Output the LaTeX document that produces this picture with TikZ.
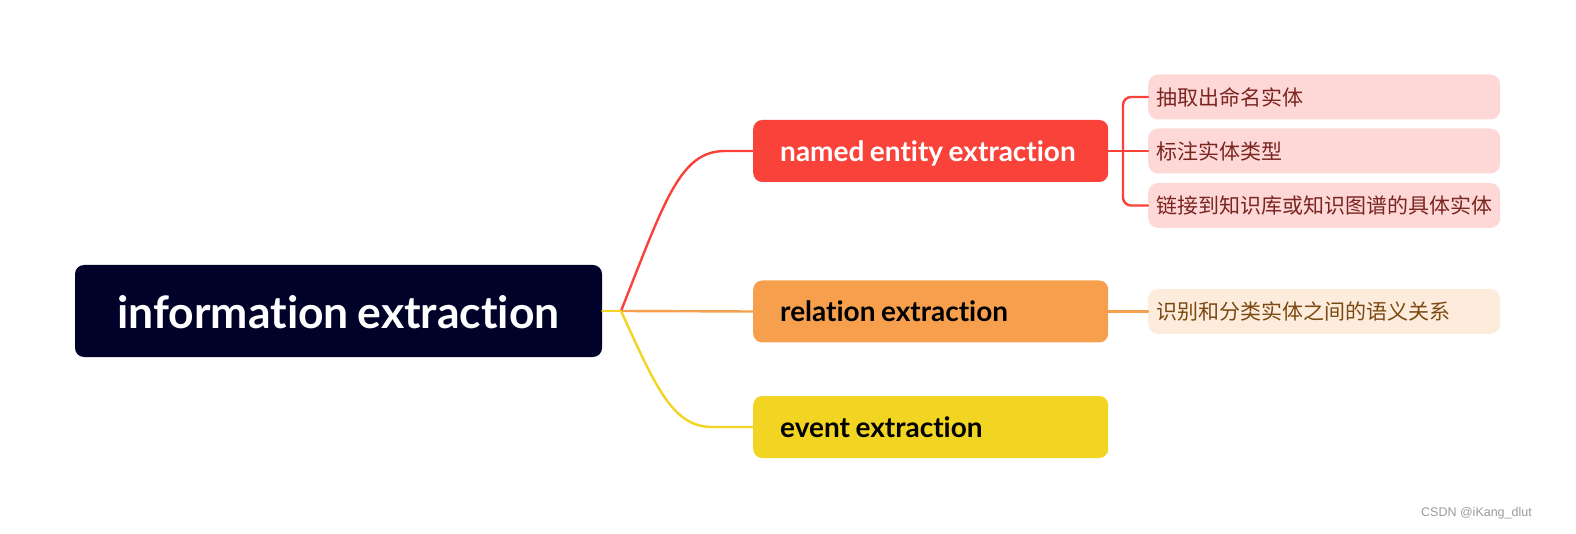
\documentclass[tikz,border=0pt]{standalone}
\usepackage{fontspec}
\setmainfont{Lato}[Ligatures={NoCommon}, WordSpace={0.8}]
\newfontfamily\cjk{Noto Sans CJK SC}
\newfontfamily\wmfont{Liberation Sans}
\definecolor{rootc}{HTML}{000229}
\definecolor{redc}{HTML}{F9423A}
\definecolor{orac}{HTML}{F6A04D}
\definecolor{yelc}{HTML}{F2D422}
\definecolor{pinkc}{HTML}{FDD8D7}
\definecolor{pinkt}{HTML}{7A2520}
\definecolor{peachc}{HTML}{FDEBDB}
\definecolor{peacht}{HTML}{7A4A12}
\definecolor{wmc}{HTML}{9A9A9A}
\newcommand{\mbtext}[1]{\makebox[301pt][l]{#1}}
\newcommand{\sbtext}[1]{\makebox[336pt][l]{#1}}
\tikzset{
  mainbox/.style={rounded corners=9, minimum height=62, inner xsep=27, inner ysep=0, text height=24, text depth=3, anchor=west, font=\bfseries\fontsize{28}{30}\selectfont},
  subbox/.style={rounded corners=10, minimum height=45, inner xsep=8, inner ysep=0, anchor=west, font=\cjk\fontsize{21}{24}\selectfont},
  conn/.style={line width=2.4, line cap=round},
}
\begin{document}
\begin{tikzpicture}[x=1pt,y=-1pt]
\useasboundingbox (0,0) rectangle (1576,534);
\node[fill=rootc, rounded corners=9, minimum width=527, minimum height=92, inner ysep=0, text height=36, text depth=0, text=white, font=\bfseries\fontsize{44.5}{46}\selectfont] (root) at (338.5,311) {information extraction};
\node[mainbox, fill=redc, text=white] (ne) at (753,151) {\mbtext{named entity extraction}};
\node[mainbox, fill=orac, text=black] (re) at (753,311.5) {\mbtext{relation extraction}};
\node[mainbox, fill=yelc, text=black] (ee) at (753,427) {\mbtext{event extraction}};
\node[subbox, fill=pinkc, text=pinkt] (c1) at (1148,97) {\sbtext{抽取出命名实体}};
\node[subbox, fill=pinkc, text=pinkt] (c2) at (1148,151) {\sbtext{标注实体类型}};
\node[subbox, fill=pinkc, text=pinkt] (c3) at (1148,205.5) {\sbtext{链接到知识库或知识图谱的具体实体}};
\node[subbox, fill=peachc, text=peacht] (r1) at (1148,311.5) {\sbtext{识别和分类实体之间的语义关系}};
\coordinate (j) at (621,311);
\draw[conn, orac] (j) -- (re.west);
\draw[conn, redc] (j) .. controls (665,200) and (680,151) .. (725,151) -- (ne.west);
\draw[conn, yelc] (j) .. controls (655,385) and (672,427) .. (712,427) -- (ee.west);
\draw[conn, yelc] (root.east) -- (j);
\draw[conn, redc] (ne.east) -- (c2.west);
\draw[conn, redc, rounded corners=8] (c1.west) -- ++(-25,0) |- (c3.west);
\draw[conn, orac] (re.east) -- (r1.west);
\node[text=wmc, font=\wmfont\fontsize{12.5}{15}\selectfont, anchor=east, inner sep=0] (wm) at (1532,513) {CSDN @iKang\_dlut};
\end{tikzpicture}
\end{document}
